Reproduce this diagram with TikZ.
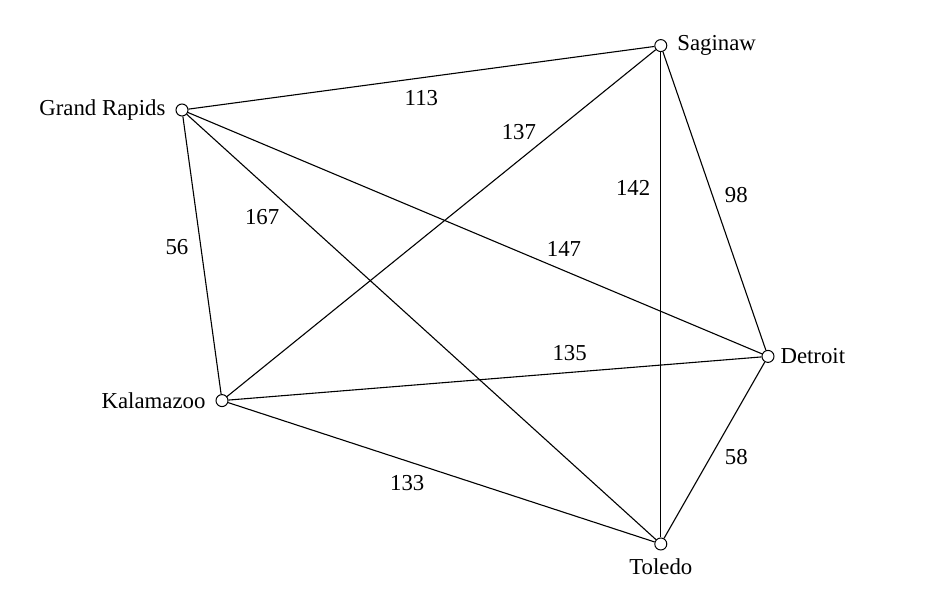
\documentclass[tikz,border=0pt]{standalone}
\usepackage{fontspec}
\setmainfont{Liberation Serif}
\usetikzlibrary{positioning}

\begin{document}
\begin{tikzpicture}
    [
        on grid, label distance=1.5pt,
        font=\fontsize{11.4}{13.5}\selectfont,
        city_node/.style={circle, draw=black, fill=white, line width=0.5pt, inner sep=0pt, minimum size=6pt},
        road/.style={line width=0.55pt, color=black},
        dist/.style={inner sep=1pt},
    ]
        \useasboundingbox (-91pt,55pt) rectangle (375.5pt,-246.5pt);
        \node[city_node, label=left:{Grand Rapids}] (grand) at (0,0) {} ;
        \node[city_node, label=right:{Saginaw}] (saginaw) [above right = 32.2pt and 239.4pt of grand] {} ;
        \node[city_node, label={[label distance=-0.5pt]right:{Detroit}}] (detroit) [below right = 155.4pt and 53.6pt of saginaw] {} ;
        \node[city_node, label=left:{Kalamazoo}] (kalamazoo) [below right = 145.3pt and 20pt of grand] {} ;
        \node[city_node, label={[label distance=0.5pt]below:{Toledo}}] (toledo) [below = 249.2pt of saginaw] {} ;
        \draw[road] (grand) -- node[dist, pos=0.5, below=5pt] {113} (saginaw) ;
        \draw[road] (grand) -- node[dist, pos=0.47, left=5pt] {56} (kalamazoo) ;
        \draw[road] (grand) -- node[dist, pos=0.21, below left=2.5pt] {167} (toledo) ;
        \draw[road] (grand) -- node[dist, pos=0.655, above=6pt] {147} (detroit) ;
        \draw[road] (kalamazoo) -- node[dist, pos=0.73, above left=1pt] {137} (saginaw) ;
        \draw[road] (kalamazoo) -- node[dist, pos=0.64, above=4.5pt] {135} (detroit) ;
        \draw[road] (kalamazoo) -- node[dist, pos=0.42, below=6pt] {133} (toledo) ;
        \draw[road] (saginaw) -- node[dist, pos=0.28, left=4pt] {142} (toledo) ;
        \draw[road] (saginaw) -- node[dist, pos=0.48, right=5pt] {98} (detroit) ;
        \draw[road] (detroit) -- node[dist, pos=0.54, right=6pt] {58} (toledo) ;
    \end{tikzpicture}
\end{document}
